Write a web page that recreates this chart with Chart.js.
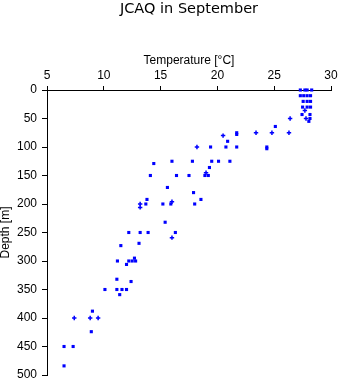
<!DOCTYPE html>
<html>
<head>
<meta charset="utf-8">
<script src="https://cdn.jsdelivr.net/npm/chart.js@4/dist/chart.umd.min.js"></script>
<style>
  html, body { margin: 0; padding: 0; background: #fff; }
  #wrap { width: 341px; height: 384px; position: relative; }
</style>
</head>
<body>
<div id="wrap"><canvas id="chart-scatter"></canvas></div>
<script>
const chartTitle = "JCAQ in September";

// square markers: temperature [°C] and depth [m]
const squareTemp = [
  27.3, 27.7, 27.9, 28.3,
  27.3, 27.6, 27.9, 28.2,
  27.55, 27.9, 28.2,
  27.5, 27.9, 28.2,
  27.45, 28.15,
  28.15, 28.05, 25.1,
  21.7, 21.7, 20.9,
  19.4, 20.75, 21.7, 24.35, 24.35,
  16.0, 17.8, 19.5, 20.1, 21.1,
  14.4, 19.3,
  14.1, 16.4, 17.5, 18.9, 19.2,
  15.6, 17.9, 13.8, 18.55,
  13.7, 15.2, 15.9, 18.0,
  15.4,
  12.2, 13.2, 13.9, 16.3,
  13.1, 11.5, 12.7,
  11.2, 12.2, 12.5, 12.8,
  12.0, 11.15, 12.4,
  10.1, 11.15, 11.6, 12.0,
  11.4, 9.0, 8.9,
  6.5, 7.3, 6.5
];
const squareDepth = [
  0, 0, 0, 0,
  10, 10, 10, 10,
  20, 20, 20,
  30, 30, 30,
  43, 43,
  50, 55, 64,
  75, 78, 90,
  100, 100, 100, 100, 103,
  125, 125, 125, 125, 125,
  129, 136,
  150, 150, 150, 150, 150,
  171, 180, 192, 192,
  200, 200, 200, 200,
  232,
  250, 250, 250, 250,
  269, 273, 295,
  300, 300, 300, 300,
  306, 332, 336,
  350, 350, 350, 350,
  359, 388, 424,
  450, 450, 484
];

// plus markers
const plusTemp = [27.7, 26.4, 27.8, 23.4, 24.8, 26.3, 20.5, 18.2, 19.0, 16.0, 13.2, 13.2, 16.0, 7.4, 8.8, 9.5];
const plusDepth = [36, 50, 50, 75, 75, 75, 80, 100, 145, 196, 200, 206, 259, 400, 400, 400];

const tempTicks = [5, 10, 15, 20, 25, 30];
const depthTicks = [0, 50, 100, 150, 200, 250, 300, 350, 400, 450, 500];

const toPoints = (xs, ys) => xs.map((x, i) => ({ x: x, y: ys[i] }));

const fontFamily = "'Liberation Sans', Arial, sans-serif";
Chart.defaults.font.family = fontFamily;
Chart.defaults.color = "#000";

// title centred over the plot area, not the whole canvas
const plotTitle = {
  id: "plotTitle",
  afterDraw(chart) {
    const { ctx, chartArea } = chart;
    ctx.save();
    ctx.font = "14.5px 'DejaVu Sans', sans-serif";
    ctx.fillStyle = "#000";
    ctx.textAlign = "center";
    ctx.textBaseline = "middle";
    ctx.fillText(chartTitle, (chartArea.left + chartArea.right) / 2, 9);
    ctx.restore();
  },
};

const ctx = document.getElementById("chart-scatter");

const data = {
  datasets: [
    {
      label: "squares",
      data: toPoints(squareTemp, squareDepth),
      pointStyle: "rect",
      pointRadius: 2.2,
      pointBorderWidth: 0,
      backgroundColor: "#0000ff",
      borderColor: "#0000ff",
      clip: false,
    },
    {
      label: "plus",
      data: toPoints(plusTemp, plusDepth),
      pointStyle: "cross",
      pointRadius: 2.2,
      pointBorderWidth: 1.5,
      backgroundColor: "#0000ff",
      borderColor: "#0000ff",
      clip: false,
    },
  ],
};

const options = {
  responsive: true,
  maintainAspectRatio: false,
  animation: false,
  layout: { padding: { left: 0, right: 10, top: 18, bottom: 9 } },
  plugins: {
    legend: { display: false },
    tooltip: { enabled: false },
    title: { display: false },
  },
  scales: {
    x: {
      type: "linear",
      position: "top",
      min: tempTicks[0],
      max: tempTicks[tempTicks.length - 1],
      afterBuildTicks: (scale) => { scale.ticks = tempTicks.map((v) => ({ value: v })); },
      afterFit: (scale) => { scale.height = 72; },
      grid: { drawOnChartArea: false, drawTicks: true, tickLength: 4, color: "#000", lineWidth: 1 },
      border: { display: true, color: "#000", width: 1 },
      ticks: { padding: 3, maxRotation: 0, font: { size: 12 }, color: "#000" },
      title: {
        display: true,
        text: "Temperature [°C]",
        color: "#000",
        font: { size: 12, lineHeight: 1.2 },
        padding: { top: 35, bottom: 0 },
      },
    },
    y: {
      type: "linear",
      position: "left",
      reverse: true,
      min: depthTicks[0],
      max: depthTicks[depthTicks.length - 1],
      afterBuildTicks: (scale) => { scale.ticks = depthTicks.map((v) => ({ value: v })); },
      afterFit: (scale) => {
        scale.width = 47;
        scale.paddingTop = 0;
        scale.paddingBottom = 0;
      },
      grid: { drawOnChartArea: false, drawTicks: true, tickLength: 5, color: "#000", lineWidth: 1 },
      border: { display: true, color: "#000", width: 1 },
      ticks: { padding: 5, font: { size: 12 }, color: "#000" },
      title: {
        display: true,
        text: "Depth [m]",
        color: "#000",
        font: { size: 12, lineHeight: 1 },
        padding: { top: 0, bottom: 0 },
      },
    },
  },
};

new Chart(ctx, { type: "scatter", data: data, options: options, plugins: [plotTitle] });
</script>
</body>
</html>
